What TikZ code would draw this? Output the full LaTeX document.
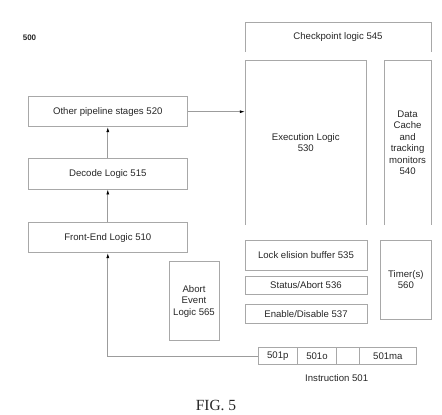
\documentclass[tikz,border=0pt]{standalone}
\usepackage{fontspec}
\setmainfont{Liberation Sans}
\newfontfamily\figfont{Liberation Serif}
\usetikzlibrary{arrows.meta}
\definecolor{edge}{HTML}{A8A8A8}
\definecolor{wire}{HTML}{9C9C9C}
\definecolor{ink}{HTML}{262626}
\tikzset{
  blk/.style={draw=edge, line width=0.8pt, inner sep=0pt, align=center, text=ink,
    font=\fontsize{9.6}{11.5}\selectfont},
  lbl/.style={inner sep=0pt, align=center, text=ink, font=\fontsize{9.6}{11.5}\selectfont},
  openbox/.style={draw=edge, line width=0.8pt},
  flow/.style={draw=wire, line width=0.7pt, -{Latex[length=5pt,width=3pt,color=black]}},
}
\begin{document}
\begin{tikzpicture}[x=1pt,y=-1pt]
\useasboundingbox (0,0) rectangle (442,415);
% label
\node[inner sep=0pt, font=\bfseries\fontsize{8}{9}\selectfont, text=ink] (num) at (29.5,38) {500};
% pipeline
\node[blk, minimum width=159pt, minimum height=30pt] (other) at (107.8,111.7) {Other pipeline stages 520};
\node[blk, minimum width=159pt, minimum height=30.7pt] (decode) at (107.8,173.7) {Decode Logic 515};
\node[blk, minimum width=159pt, minimum height=30pt] (front) at (107.8,237.7) {Front-End Logic 510};
% open-bottom boxes
\coordinate (cpA) at (245,52); \coordinate (cpB) at (431,52);
\draw[openbox] (cpA) -- (245,22.7) -- (431,22.7) -- (cpB);
\node[lbl] (cp) at (338,37.5) {Checkpoint logic 545};
\coordinate (exA) at (245,225); \coordinate (exB) at (366.7,225);
\draw[openbox] (exA) -- (245,60.7) -- (366.7,60.7) -- (exB);
\node[inner sep=0pt, minimum width=121.7pt, minimum height=164.3pt] (exec) at (305.85,142.85) {};
\node[lbl] (exectext) at (305.8,142.5) {Execution Logic\\530};
\coordinate (dcA) at (384.2,225); \coordinate (dcB) at (431,225);
\draw[openbox] (dcA) -- (384.2,60.7) -- (431,60.7) -- (dcB);
\node[lbl] (dc) at (407.6,142.5) {Data\\Cache\\and\\tracking\\monitors\\540};
% lower boxes
\node[blk, minimum width=122pt, minimum height=30pt] (lock) at (306,255) {Lock elision buffer 535};
\node[blk, minimum width=122pt, minimum height=18.3pt] (status) at (306,285.2) {Status/Abort 536};
\node[blk, minimum width=122pt, minimum height=19pt] (enable) at (306,313.8) {Enable/Disable 537};
\node[blk, minimum width=50.3pt, minimum height=79.3pt] (timer) at (405.85,279.7) {Timer(s)\\560};
\node[blk, minimum width=50pt, minimum height=79pt] (abort) at (194,301.2) {Abort\\Event\\Logic 565};
% instruction
\node[blk, minimum width=39pt, minimum height=16.6pt] (ip) at (277.8,356) {501p};
\node[blk, minimum width=39.4pt, minimum height=16.6pt] (io) at (317,356) {501o};
\node[blk, minimum width=22.3pt, minimum height=16.6pt] (ix) at (347.85,356) {};
\node[blk, minimum width=57.7pt, minimum height=16.6pt] (ima) at (387.85,356) {501ma};
\node[lbl] (itext) at (336.7,378.3) {Instruction 501};
\node[inner sep=0pt, font=\figfont\fontsize{15.5}{17}\selectfont, text=ink] (fig) at (216,405) {FIG. 5};
% connectors
\draw[flow] (front.north) -- (decode.south);
\draw[flow] (decode.north) -- (other.south);
\draw[flow] (other.east) -- (other.east -| exec.west);
\draw[flow] (ip.west) -- (ip.west -| front.south) -- (front.south);
\end{tikzpicture}
\end{document}
